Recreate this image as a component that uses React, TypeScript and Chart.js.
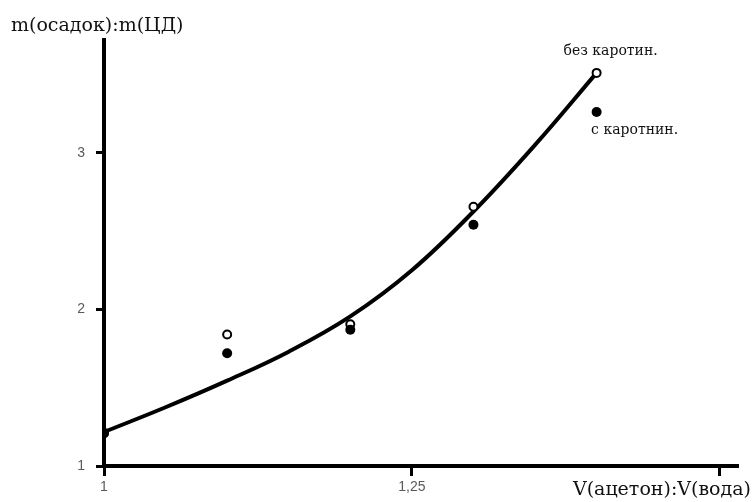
import React, { useEffect, useRef } from "react";
import { Chart, registerables } from "chart.js";

Chart.register(...registerables);

const xValues = [1, 1.1, 1.2, 1.3, 1.4];
const withoutCarotene = [1.21, 1.84, 1.905, 2.655, 3.51];
const withCarotene = [1.21, 1.72, 1.87, 2.54, 3.26];

const curveX = [1, 1.05, 1.1, 1.15, 1.2, 1.25, 1.3, 1.35, 1.4];
const curveValues = [1.217, 1.375, 1.545, 1.73, 1.955, 2.25, 2.625, 3.05, 3.51];

const xTicks = [1, 1.25, 1.5];
const xTickLabels = ["1", "1,25", ""];
const yTicks = [1, 2, 3];
const yTickLabels = ["1", "2", "3"];

const yTitle = "m(осадок):m(ЦД)";
const xTitle = "V(ацетон):V(вода)";
const labelWithout = "без каротин.";
const labelWith = "с каротнин.";

const textPlugin = {
  id: "texts",
  afterDraw(chart: any) {
    const ctx = chart.ctx;
    const xs = chart.scales.x;
    const ys = chart.scales.y;
    ctx.save();
    ctx.fillStyle = "#111";
    ctx.textBaseline = "middle";
    ctx.font = '19px "DejaVu Serif"';
    ctx.textAlign = "left";
    ctx.fillText(yTitle, 11, 26);
    ctx.textAlign = "right";
    ctx.font = '19px "DejaVu Serif"';
    ctx.fillText(xTitle, 751, 490);
    ctx.font = '14px "DejaVu Serif"';
    ctx.textAlign = "center";
    const last = xValues.length - 1;
    const px = xs.getPixelForValue(xValues[last]);
    ctx.fillText(labelWithout, px + 14, ys.getPixelForValue(withoutCarotene[last]) - 22);
    ctx.fillText(labelWith, px + 38, ys.getPixelForValue(withCarotene[last]) + 18);
    ctx.restore();
  },
};

export default function App() {
  const ref = useRef<HTMLCanvasElement>(null);
  useEffect(() => {
    const chart = new Chart(ref.current as HTMLCanvasElement, {
      type: "line",
      data: {
        datasets: [
          {
            label: "curve",
            data: curveX.map((x, i) => ({ x, y: curveValues[i] })),
            borderColor: "#000",
            borderWidth: 4,
            pointRadius: 0,
            tension: 0.4,
            fill: false,
            order: 3,
          },
          {
            label: labelWithout,
            data: xValues.map((x, i) => ({ x, y: withoutCarotene[i] })),
            showLine: false,
            pointRadius: 4,
            pointBorderWidth: 2,
            pointBorderColor: "#000",
            pointBackgroundColor: "#fff",
            order: 2,
          },
          {
            label: labelWith,
            data: xValues.map((x, i) => ({ x, y: withCarotene[i] })),
            showLine: false,
            pointRadius: 5,
            pointBorderWidth: 0,
            pointBackgroundColor: "#000",
            pointBorderColor: "#000",
            order: 1,
          },
        ],
      },
      options: {
        responsive: false,
        animation: false,
        layout: { padding: { left: 0, top: 40, right: 15, bottom: 0 } },
        plugins: {
          legend: { display: false },
          tooltip: { enabled: false },
        },
        scales: {
          x: {
            type: "linear",
            min: 1,
            max: 1.514,
            afterFit: (s: any) => {
              s.height = 36;
            },
            afterBuildTicks: (s: any) => {
              s.ticks = xTicks.map((v) => ({ value: v }));
            },
            border: { display: true, color: "#000", width: 4 },
            grid: {
              display: true,
              drawOnChartArea: false,
              drawTicks: true,
              tickLength: 10,
              color: "#000",
              lineWidth: 3,
            },
            ticks: {
              padding: 3,
              color: "#5a5a5a",
              font: { family: "Liberation Sans", size: 14 },
              maxRotation: 0,
              callback: (v: any) => {
                const i = xTicks.indexOf(Number(v));
                return i >= 0 ? xTickLabels[i] : "";
              },
            },
          },
          y: {
            type: "linear",
            min: 1,
            max: 3.72,
            afterFit: (s: any) => {
              s.width = 104;
            },
            afterBuildTicks: (s: any) => {
              s.ticks = yTicks.map((v) => ({ value: v }));
            },
            border: { display: true, color: "#000", width: 4 },
            grid: {
              display: true,
              drawOnChartArea: false,
              drawTicks: true,
              tickLength: 8,
              color: "#000",
              lineWidth: 3,
            },
            ticks: {
              padding: 11,
              color: "#5a5a5a",
              font: { family: "Liberation Sans", size: 14 },
              callback: (v: any) => {
                const i = yTicks.indexOf(Number(v));
                return i >= 0 ? yTickLabels[i] : "";
              },
            },
          },
        },
      },
      plugins: [textPlugin],
    } as any);
    return () => chart.destroy();
  }, []);
  return (
    <div style={{ position: "absolute", left: 0, top: 0, width: 752, height: 502, background: "#fff" }}>
      <canvas ref={ref} width={752} height={502} />
    </div>
  );
}
